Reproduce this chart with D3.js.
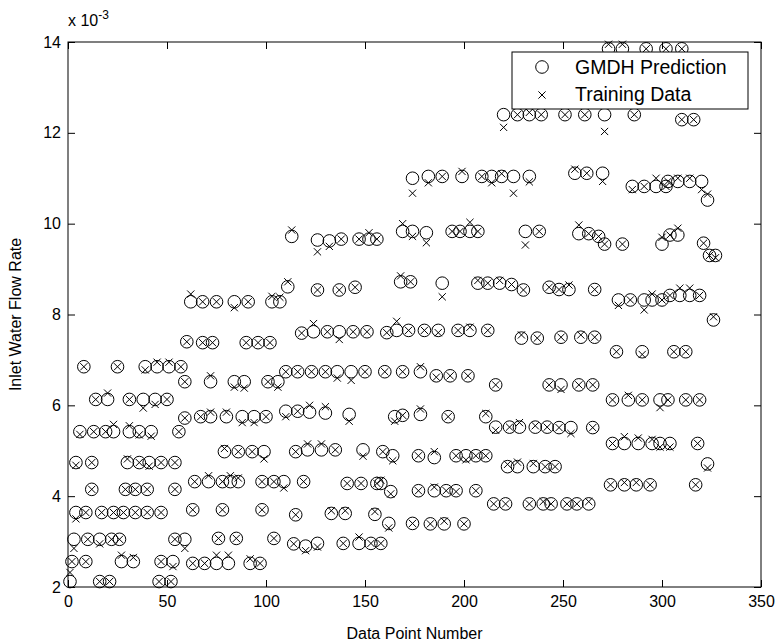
<!DOCTYPE html>
<html>
<head>
<meta charset="utf-8">
<script src="https://cdn.jsdelivr.net/npm/d3@7"></script>
<style>
  body { margin: 0; background: #fff; }
  text { font-family: "Liberation Sans", Arial, Helvetica, sans-serif; fill: #000; }
</style>
</head>
<body>
<svg id="chart" width="780" height="644"></svg>
<script>
// Inlet water flow rate, in units of 1e-3, per data point number
const pointNumber = [
  1,2,3,4,4,6,8,9,9,10,
  12,12,13,14,16,16,17,19,20,21,
  22,23,23,25,26,27,28,29,30,31,
  31,33,34,34,36,36,38,39,40,40,
  41,42,44,45,46,47,47,47,50,51,
  52,53,54,54,54,56,57,59,59,59,
  60,62,63,63,64,67,68,68,69,71,
  72,72,73,75,75,76,78,78,79,80,
  81,82,84,84,85,86,86,88,89,90,
  91,92,93,94,96,97,98,98,99,100,
  101,102,103,104,104,106,107,109,110,110,
  111,113,114,115,115,116,116,118,119,120,
  121,122,123,124,126,126,126,128,130,130,
  131,132,133,135,136,137,137,138,139,140,
  141,142,143,144,145,147,147,148,149,150,
  151,152,153,155,156,156,158,158,159,160,
  161,162,163,164,165,166,168,169,169,169,
  172,173,174,174,174,177,177,178,178,180,
  181,182,183,185,185,186,187,189,189,190,
  191,192,193,194,196,196,197,198,199,200,
  201,202,203,203,206,206,207,207,209,211,
  211,212,212,214,215,216,216,218,219,220,
  221,222,223,224,225,227,227,228,229,230,
  231,233,233,233,235,236,237,238,239,240,
  241,242,243,243,244,246,248,248,249,249,
  251,252,253,254,256,257,258,258,259,261,
  262,263,263,265,265,266,266,268,270,271,
  271,273,274,275,275,277,278,280,280,281,
  281,283,284,285,286,287,288,290,290,291,
  291,292,294,295,295,297,299,299,300,300,
  302,302,303,304,303,304,304,306,308,308,
  309,310,310,312,312,314,314,316,317,318,
  319,319,320,321,323,323,324,326,327
];

const gmdhPrediction = [
  2.12,2.56,3.05,3.64,4.74,5.42,6.85,2.56,3.64,3.05,
  4.15,4.74,5.42,6.13,2.12,3.05,3.64,5.42,6.13,2.12,
  3.05,3.64,5.42,6.85,3.05,2.56,3.64,4.15,4.74,5.42,
  6.13,2.56,3.64,4.15,4.74,5.42,6.13,6.85,3.64,4.15,
  4.74,5.42,6.13,6.85,2.12,2.56,3.64,4.74,6.13,6.85,
  2.12,2.56,3.05,4.15,4.74,5.42,6.85,3.05,5.72,6.52,
  7.40,8.28,3.70,2.52,4.32,5.75,8.28,7.38,2.52,4.32,
  6.52,5.75,7.38,8.28,2.52,3.07,4.32,3.70,4.98,5.75,
  2.52,4.32,8.28,6.52,3.07,4.98,4.32,5.75,6.52,7.38,
  8.28,2.52,4.98,5.75,7.38,2.52,4.32,3.70,4.98,5.75,
  6.52,7.38,8.28,4.32,3.07,6.52,8.28,4.32,6.74,5.87,
  8.61,9.72,2.95,4.98,3.59,6.74,5.87,7.59,4.32,2.90,
  5.02,5.85,6.74,7.62,2.96,8.54,9.64,5.02,6.74,5.83,
  7.62,9.62,3.62,5.02,6.74,7.62,8.54,9.66,2.96,3.62,
  4.28,5.80,6.74,7.62,8.60,2.96,9.66,4.28,5.02,6.74,
  7.62,9.66,2.96,3.60,4.28,9.66,4.28,2.96,4.98,6.74,
  7.60,3.40,4.10,4.89,5.75,7.65,8.72,5.78,6.74,9.83,
  7.65,8.72,3.40,9.83,11.00,4.89,4.12,6.74,5.80,7.65,
  9.80,11.04,3.39,4.85,4.12,6.65,7.65,8.69,11.04,3.39,
  4.12,5.75,6.65,9.83,4.89,4.12,7.65,9.83,11.04,3.39,
  4.89,6.65,7.65,9.83,4.89,4.12,9.83,8.69,11.04,4.89,
  5.75,7.65,8.69,11.04,3.83,6.45,5.52,8.69,11.04,12.40,
  3.83,4.65,5.52,8.66,11.04,12.40,4.65,5.52,7.48,8.54,
  9.83,12.40,11.04,3.83,4.65,5.52,7.48,9.83,12.40,3.83,
  4.65,5.52,6.45,8.60,3.83,4.65,5.51,8.55,7.50,6.45,
  12.40,3.83,8.55,5.51,11.11,3.83,6.45,9.78,7.50,12.40,
  11.11,3.83,9.78,5.51,6.45,7.50,8.55,9.72,11.11,12.40,
  9.55,13.85,4.25,5.16,6.12,7.18,8.32,13.85,9.55,4.25,
  5.16,6.12,8.32,10.82,12.40,4.25,5.16,6.12,7.18,8.32,
  10.82,13.85,4.25,5.16,8.32,10.82,6.12,5.16,8.32,9.55,
  13.85,10.82,6.12,5.16,10.93,9.75,8.42,7.18,10.93,9.75,
  8.42,12.29,13.85,6.12,7.18,10.93,8.42,12.29,4.25,5.16,
  6.12,8.42,10.93,9.57,4.71,10.52,9.30,7.88,9.30
];

const trainingData = [
  2.32,2.56,2.85,3.50,4.68,5.36,6.85,2.56,3.64,3.05,
  4.15,4.74,5.42,6.13,2.12,2.95,3.64,5.42,6.27,2.12,
  3.05,3.64,5.58,6.85,3.05,2.70,3.64,4.15,4.82,5.55,
  6.13,2.65,3.64,4.15,4.74,5.35,5.94,6.78,3.64,4.15,
  4.66,5.32,6.02,6.95,2.12,2.56,3.64,4.74,6.13,6.95,
  2.12,2.45,3.05,4.15,4.74,5.42,6.85,2.85,5.72,6.52,
  7.40,8.45,3.70,2.52,4.32,5.75,8.28,7.38,2.52,4.45,
  6.65,5.85,7.38,8.28,2.70,3.07,4.32,3.70,5.05,5.85,
  2.70,4.45,8.15,6.40,3.07,4.98,4.40,5.62,6.38,7.38,
  8.28,2.62,4.98,5.62,7.38,2.52,4.32,3.70,4.82,5.75,
  6.52,7.38,8.40,4.32,3.07,6.40,8.38,4.18,6.74,5.75,
  8.72,9.86,2.95,4.98,3.59,6.74,5.87,7.59,4.32,2.80,
  5.15,6.00,6.74,7.80,2.88,8.54,9.38,5.15,6.74,5.97,
  7.62,9.50,3.68,5.02,6.60,7.45,8.54,9.66,2.96,3.68,
  4.28,5.65,6.55,7.62,8.60,3.10,9.66,4.28,4.88,6.74,
  7.62,9.80,2.96,3.66,4.28,9.66,4.35,2.96,4.98,6.74,
  7.60,3.30,4.05,4.78,5.65,7.85,8.85,5.78,6.74,10.00,
  7.65,8.72,3.40,9.72,10.67,4.89,4.12,6.85,5.92,7.65,
  9.58,10.90,3.39,4.98,4.20,6.62,7.60,8.39,11.04,3.45,
  4.12,5.75,6.65,9.83,4.89,4.10,7.65,9.83,11.15,3.39,
  4.80,6.65,7.72,10.03,4.89,4.12,9.83,8.75,11.04,4.89,
  5.82,7.65,8.69,10.90,3.83,6.45,5.45,8.75,11.10,12.12,
  3.83,4.70,5.52,8.66,10.67,12.40,4.75,5.62,7.55,8.54,
  9.53,12.45,10.92,3.83,4.72,5.55,7.48,9.83,12.40,3.88,
  4.65,5.52,6.45,8.60,3.83,4.65,5.51,8.55,7.50,6.35,
  12.40,3.83,8.65,5.38,11.20,3.83,6.45,9.97,7.55,12.40,
  11.11,3.88,9.78,5.51,6.45,7.50,8.55,9.72,10.93,12.03,
  9.55,13.95,4.25,5.16,6.12,7.18,8.20,13.95,9.55,4.30,
  5.31,6.22,8.32,10.75,12.40,4.30,5.28,6.12,7.12,8.10,
  10.82,13.85,4.25,5.25,8.45,11.00,5.95,5.08,8.32,9.70,
  13.85,10.82,6.12,5.08,10.93,9.75,8.42,7.18,11.00,9.90,
  8.58,12.29,13.85,6.12,7.18,11.00,8.58,12.29,4.25,5.16,
  6.12,8.42,10.75,9.57,4.62,10.65,9.30,7.95,9.25
];

const xTickValues = [0, 50, 100, 150, 200, 250, 300, 350];
const yTickValues = [2, 4, 6, 8, 10, 12, 14];
const seriesNames = ["GMDH Prediction", "Training Data"];

const svg = d3.select("#chart");
const plot = { left: 68, right: 761, top: 42, bottom: 587 };

const x = d3.scaleLinear().domain([0, 350]).range([plot.left, plot.right]);
const y = d3.scaleLinear().domain([2, 14]).range([plot.bottom, plot.top]);

const tickLen = 7;
const fontSize = 16;

// Axes with inward ticks on all four sides
const axisBottom = d3.axisBottom(x).tickValues(xTickValues).tickSizeInner(-tickLen).tickSizeOuter(0).tickPadding(9);
const axisTop = d3.axisTop(x).tickValues(xTickValues).tickSizeInner(-tickLen).tickSizeOuter(0).tickFormat("");
const axisLeft = d3.axisLeft(y).tickValues(yTickValues).tickSizeInner(-tickLen).tickSizeOuter(0).tickPadding(7);
const axisRight = d3.axisRight(y).tickValues(yTickValues).tickSizeInner(-tickLen).tickSizeOuter(0).tickFormat("");

function styleAxis(g) {
  g.select(".domain").remove();
  g.selectAll(".tick line").attr("stroke", "#000").attr("stroke-width", 1);
  g.selectAll(".tick text").attr("font-size", fontSize).attr("font-family", null);
}

svg.append("g").attr("transform", `translate(0,${plot.bottom})`).call(axisBottom).call(styleAxis);
svg.append("g").attr("transform", `translate(0,${plot.top})`).call(axisTop).call(styleAxis);
svg.append("g").attr("transform", `translate(${plot.left},0)`).call(axisLeft).call(styleAxis);
svg.append("g").attr("transform", `translate(${plot.right},0)`).call(axisRight).call(styleAxis);

// Axes box
svg.append("rect")
  .attr("x", plot.left).attr("y", plot.top)
  .attr("width", plot.right - plot.left).attr("height", plot.bottom - plot.top)
  .attr("fill", "none").attr("stroke", "#000").attr("stroke-width", 1);

const points = pointNumber.map((n, i) => ({ n, pred: gmdhPrediction[i], train: trainingData[i] }));

const circleR = 6.3;
const crossH = 3.6;

function crossPath(cx, cy, h) {
  return `M${cx - h},${cy - h}L${cx + h},${cy + h}M${cx - h},${cy + h}L${cx + h},${cy - h}`;
}

// GMDH prediction: open circles
svg.append("g").selectAll("circle").data(points).join("circle")
  .attr("cx", d => x(d.n)).attr("cy", d => y(d.pred)).attr("r", circleR)
  .attr("fill", "none").attr("stroke", "#000").attr("stroke-width", 1);

// Training data: x markers
svg.append("g").selectAll("path").data(points).join("path")
  .attr("d", d => crossPath(x(d.n), y(d.train), crossH))
  .attr("fill", "none").attr("stroke", "#000").attr("stroke-width", 1);

// Axis labels
svg.append("text")
  .attr("x", (plot.left + plot.right) / 2).attr("y", 639)
  .attr("text-anchor", "middle").attr("font-size", fontSize)
  .text("Data Point Number");

svg.append("text")
  .attr("transform", `translate(21,${(plot.top + plot.bottom) / 2}) rotate(-90)`)
  .attr("text-anchor", "middle").attr("font-size", fontSize)
  .text("Inlet Water Flow Rate");

// Exponent multiplier above the y axis
const expo = svg.append("text").attr("x", plot.left).attr("y", 26).attr("font-size", fontSize);
expo.append("tspan").text("x 10");
expo.append("tspan").attr("dy", -7).attr("font-size", 12).text("-3");

// Legend
const legendFont = 19.5;
const legend = svg.append("g");
const lg = { x: 512, y: 52, w: 236, h: 57 };
legend.append("rect")
  .attr("x", lg.x).attr("y", lg.y).attr("width", lg.w).attr("height", lg.h)
  .attr("fill", "#fff").attr("stroke", "#000").attr("stroke-width", 1);
legend.append("circle")
  .attr("cx", 542).attr("cy", 67).attr("r", circleR)
  .attr("fill", "none").attr("stroke", "#000");
legend.append("path")
  .attr("d", crossPath(542, 95, crossH))
  .attr("fill", "none").attr("stroke", "#000");
legend.append("text").attr("x", 575).attr("y", 74).attr("font-size", legendFont).text(seriesNames[0]);
legend.append("text").attr("x", 575).attr("y", 101).attr("font-size", legendFont).text(seriesNames[1]);
</script>
</body>
</html>
